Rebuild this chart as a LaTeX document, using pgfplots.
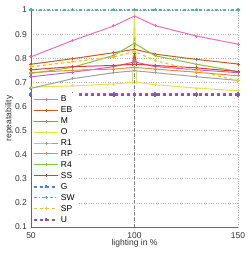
\documentclass[border=0pt]{standalone}
\usepackage{fontspec}
\setmainfont{Liberation Sans}
\usepackage{pgfplots}
\pgfplotsset{compat=1.18}
\usetikzlibrary{calc}
\definecolor{cB}{HTML}{EE6FB0}
\definecolor{cEB}{HTML}{C45A28}
\definecolor{cM}{HTML}{C065C8}
\definecolor{cO}{HTML}{E8E24A}
\definecolor{cR1}{HTML}{A0A0A0}
\definecolor{cRP}{HTML}{F08A3C}
\definecolor{cR4}{HTML}{86C23E}
\definecolor{cSS}{HTML}{E83838}
\definecolor{cG}{HTML}{4A84C4}
\definecolor{cSW}{HTML}{4CB8A0}
\definecolor{cSP}{HTML}{F0C22A}
\definecolor{cU}{HTML}{8A55A8}
\begin{document}
\fontsize{8.5}{10}\selectfont
\begin{tikzpicture}
\begin{axis}[
  scale only axis, width=207pt, height=217pt,
  xmin=50, xmax=150, ymin=0.1, ymax=1,
  xtick={50,100,150}, ytick={0.1,0.2,...,1.0},
  yticklabel style={/pgf/number format/fixed},
  /pgf/number format/assume math mode=true,
  ticklabel style={font=\fontsize{8.5}{10}\selectfont, text=black!80},
  label style={font=\fontsize{8.5}{10}\selectfont, text=black!80},
  xlabel={lighting in \%}, ylabel={repeatability},
  xlabel style={yshift=5pt}, ylabel style={yshift=-4pt},
  xticklabel style={yshift=0pt}, yticklabel style={xshift=1pt},
  axis lines=left, axis line style={-, black!60, line width=0.9pt},
  tick style={draw=none},
  grid=major, grid style={dotted, black!30, line width=0.7pt},
  legend style={at={(axis cs:50.6,0.658)}, anchor=north west, draw=none, fill=white,
    font=\fontsize{8.5}{10}\selectfont, row sep=-0.2pt, inner sep=1pt},
  legend cell align=left,
  legend image code/.code={\draw[mark repeat=2,mark phase=2,#1] plot coordinates {(0cm,0cm) (0.42cm,0cm) (0.84cm,0cm)};},
  every axis plot/.append style={line width=1.0pt, mark=+, mark size=1.5pt},
  clip=false,
]
\addplot[gray, dashed, line width=1.3pt, no marks, forget plot] coordinates {(100,0.1) (100,1)};
\addplot[cB] coordinates {(50,0.806) (70,0.873) (90,0.934) (100,0.975) (110,0.935) (130,0.892) (150,0.858)};
\addlegendentry{B}
\addplot[cEB] coordinates {(50,0.775) (70,0.798) (90,0.823) (100,0.837) (110,0.817) (130,0.795) (150,0.776)};
\addlegendentry{EB}
\addplot[cM] coordinates {(50,0.723) (70,0.742) (90,0.765) (100,0.785) (110,0.765) (130,0.752) (150,0.740)};
\addlegendentry{M}
\addplot[cO] coordinates {(50,0.680) (70,0.685) (90,0.693) (99,0.700) (100,1.0) (101,0.700) (110,0.690) (130,0.676) (150,0.665)};
\addlegendentry{O}
\addplot[cR1] coordinates {(50,0.675) (70,0.715) (90,0.740) (100,0.748) (110,0.740) (130,0.723) (150,0.708)};
\addlegendentry{R1}
\addplot[cRP] coordinates {(50,0.740) (70,0.750) (90,0.755) (100,0.762) (110,0.755) (130,0.742) (150,0.727)};
\addlegendentry{RP}
\addplot[cR4] coordinates {(50,0.737) (70,0.762) (90,0.812) (100,0.862) (110,0.810) (130,0.775) (150,0.745)};
\addlegendentry{R4}
\addplot[cSS] coordinates {(50,0.752) (70,0.765) (90,0.770) (99,0.775) (100,0.820) (101,0.775) (110,0.770) (130,0.760) (150,0.745)};
\addlegendentry{SS}
\addplot[cG, dashed, line width=1.6pt] coordinates {(50,0.652) (70,0.652) (90,0.652) (100,0.652) (110,0.652) (130,0.652) (150,0.652)};
\addlegendentry{G}
\addplot[cSW, dash dot, line width=1.2pt] coordinates {(50,1.0) (70,1.0) (90,1.0) (100,1.0) (110,1.0) (130,1.0) (150,1.0)};
\addlegendentry{SW}
\addplot[cSP, dashed, line width=1.2pt] coordinates {(50,0.765) (70,0.785) (90,0.805) (100,0.828) (110,0.790) (130,0.748) (150,0.707)};
\addlegendentry{SP}
\addplot[cU, dashed, line width=1.6pt] coordinates {(50,0.647) (70,0.647) (90,0.647) (100,0.647) (110,0.647) (130,0.647) (150,0.647)};
\addlegendentry{U}
\end{axis}
\useasboundingbox ($(current axis.south west)+(-31pt,-26pt)$) rectangle ($(current axis.north east)+(11pt,10pt)$);
\end{tikzpicture}
\end{document}
